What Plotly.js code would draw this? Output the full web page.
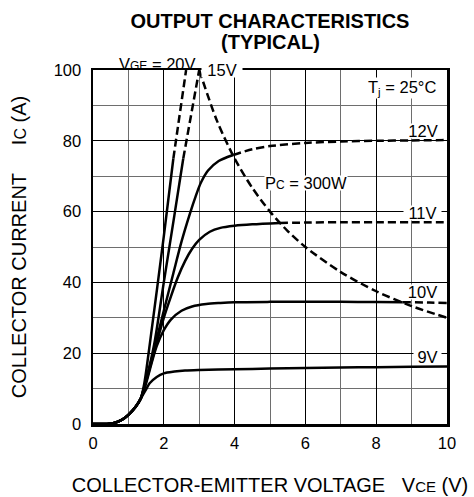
<!DOCTYPE html>
<html>
<head>
<meta charset="utf-8">
<script src="https://cdn.plot.ly/plotly-3.0.1.min.js"></script>
<style>html,body{margin:0;padding:0;background:#fff;}</style>
</head>
<body>
<div id="chart" style="width:474px;height:497px;"></div>
<script>
// ---- data (VCE in V, IC in A) ----
const v9  = [0, 0.4, 0.6, 0.8, 1.0, 1.2, 1.35, 1.5, 1.6, 1.8, 2.0, 2.3, 2.6, 3.0, 4, 5, 6, 7, 8, 9, 10];
const i9  = [0, 0, 0.3, 1.1, 2.6, 4.8, 7.2, 9.8, 11.5, 13.3, 14.3, 14.8, 15.1, 15.25, 15.45, 15.65, 15.8, 15.95, 16.05, 16.15, 16.25];

const v10 = [0, 0.4, 0.6, 0.8, 1.0, 1.2, 1.35, 1.5, 1.65, 1.8, 2.0, 2.2, 2.5, 2.8, 3.2, 3.6, 4, 5, 6, 7, 8, 8.75];
const i10 = [0, 0, 0.3, 1.1, 2.6, 4.8, 7.2, 11.5, 17, 22, 26.5, 29.5, 32, 33.2, 33.9, 34.2, 34.4, 34.5, 34.5, 34.5, 34.45, 34.4];
const v10d = [8.75, 9.5, 10];
const i10d = [34.4, 34.3, 34.2];

const v11 = [0, 0.4, 0.6, 0.8, 1.0, 1.2, 1.35, 1.5, 1.65, 1.8, 2.0, 2.2, 2.4, 2.6, 2.8, 3.0, 3.3, 3.6, 4.0, 4.5, 5.28];
const i11 = [0, 0, 0.3, 1.1, 2.6, 4.8, 7.2, 12, 17.5, 23, 30, 36, 41.5, 46, 49.5, 52, 54.3, 55.4, 56, 56.4, 56.8];
const v11d = [5.28, 6, 7, 8, 9, 10];
const i11d = [56.8, 56.9, 57, 57, 57, 57];

const v12 = [0, 0.4, 0.6, 0.8, 1.0, 1.2, 1.35, 1.5, 1.65, 1.8, 2.0, 2.27, 2.5, 2.74, 2.9, 3.05, 3.25, 3.55, 3.96];
const i12 = [0, 0, 0.3, 1.1, 2.6, 4.8, 7.2, 12.5, 18, 24, 32, 42.6, 51.5, 59.5, 64.3, 68.2, 71.6, 74.3, 76];
const v12d = [3.96, 4.5, 5, 6, 7, 8, 9, 10];
const i12d = [76, 77.6, 78.5, 79.4, 79.8, 80, 80.1, 80.2];

const v15 = [0, 0.4, 0.6, 0.8, 1.0, 1.2, 1.35, 1.5, 1.6, 1.75, 2.0, 2.3, 2.55];
const i15 = [0, 0, 0.3, 1.1, 2.6, 4.8, 7.2, 12.5, 16.5, 23.7, 40, 59, 75];
const v15d = [2.55, 3.0];
const i15d = [75, 100];

const v20 = [0, 0.4, 0.6, 0.8, 1.0, 1.2, 1.35, 1.45, 1.61, 2.0, 2.27];
const i20 = [0, 0, 0.3, 1.1, 2.6, 4.8, 7.2, 11.5, 23, 53, 75];
const v20d = [2.27, 2.63];
const i20d = [75, 100];

// 300 W power-dissipation curve
const vPc = [3, 3.5, 4, 4.5, 5, 5.5, 6, 7, 8, 9, 10];
const iPc = [100, 85.7, 75, 66.7, 60, 54.5, 50, 42.9, 37.5, 33.3, 30];

const xTicks = [0, 2, 4, 6, 8, 10];
const yTicks = [0, 20, 40, 60, 80, 100];

const FONT = 'Liberation Sans, Arial, Helvetica, sans-serif';
const solid = {color: '#000', width: 2.5, shape: 'spline', smoothing: 0.8};
const dashed = {color: '#000', width: 2.5, dash: '8px,4px', shape: 'spline', smoothing: 0.8};

function tr(x, y, line, name) {
  return {x: x, y: y, mode: 'lines', line: line, name: name, hoverinfo: 'skip', showlegend: false};
}

const traces = [
  tr(v9, i9, solid, '9V'),
  tr(v10, i10, solid, '10V'), tr(v10d, i10d, dashed, '10V'),
  tr(v11, i11, solid, '11V'), tr(v11d, i11d, dashed, '11V'),
  tr(v12, i12, solid, '12V'), tr(v12d, i12d, dashed, '12V'),
  tr(v15, i15, solid, '15V'), tr(v15d, i15d, Object.assign({}, dashed, {shape: 'linear'}), '15V'),
  tr(v20, i20, solid, '20V'), tr(v20d, i20d, Object.assign({}, dashed, {shape: 'linear'}), '20V'),
  tr(vPc, iPc, dashed, 'Pc = 300W')
];

const annFont = {family: FONT, size: 16.5, color: '#000'};
function ann(text, x, y, xanchor, bg, w, h) {
  const a = {text: text, x: x, y: y, xref: 'x', yref: 'y', showarrow: false,
             xanchor: xanchor, yanchor: 'middle', font: annFont, borderpad: 0};
  if (bg) { a.bgcolor = '#fff'; }
  if (w) { a.width = w; }
  if (h) { a.height = h; }
  return a;
}

const layout = {
  width: 474, height: 497,
  margin: {l: 93, r: 27, t: 70, b: 73},
  paper_bgcolor: '#fff', plot_bgcolor: '#fff',
  font: {family: FONT, color: '#000'},
  title: {
    text: '<b>OUTPUT CHARACTERISTICS</b>',
    font: {family: FONT, size: 20, color: '#000'},
    x: 0.5, xref: 'paper', xanchor: 'center',
    y: 0.958, yref: 'container', yanchor: 'middle'
  },
  xaxis: {
    range: [0, 10], tickvals: xTicks, ticktext: xTicks.map(String),
    showgrid: true, gridcolor: '#000', gridwidth: 1,
    minor: {dtick: 1, tick0: 0, showgrid: true, gridcolor: '#6e6e6e', gridwidth: 1},
    showline: true, linecolor: '#000', linewidth: 2.5, mirror: true,
    zeroline: false, ticks: '', ticklabelstandoff: 3,
    tickfont: {family: FONT, size: 16.5, color: '#000'},
    title: {text: 'COLLECTOR-EMITTER VOLTAGE\u00a0\u00a0\u00a0V<span style="font-size:15px">CE</span> (V)',
            font: {family: FONT, size: 20, color: '#000'}, standoff: 27}
  },
  yaxis: {
    range: [0, 100], tickvals: yTicks, ticktext: yTicks.map(String),
    showgrid: true, gridcolor: '#000', gridwidth: 1,
    minor: {dtick: 10, tick0: 0, showgrid: true, gridcolor: '#6e6e6e', gridwidth: 1},
    showline: true, linecolor: '#000', linewidth: 2.5, mirror: true,
    zeroline: false, ticks: '', ticklabelstandoff: 6,
    tickfont: {family: FONT, size: 16.5, color: '#000'},
    title: {text: 'COLLECTOR CURRENT\u00a0\u00a0\u00a0\u00a0\u00a0I<span style="font-size:16px">C</span> (A)',
            font: {family: FONT, size: 20, color: '#000'}, standoff: 22}
  },
  annotations: [
    {text: '<b>(TYPICAL)</b>', x: 0.5, y: 1.08, xref: 'paper', yref: 'paper',
     showarrow: false, xanchor: 'center', yanchor: 'middle',
     font: {family: FONT, size: 20, color: '#000'}},
    {text: 'V<span style="font-size:12px">GE</span> = 20V', x: 2.97, y: 1.017, xref: 'x', yref: 'paper',
     showarrow: false, xanchor: 'right', yanchor: 'middle', font: annFont},
    ann('15V', 3.65, 100, 'center', true, 40, 14),
    ann('T<sub>j</sub> = 25°C', 9.72, 94.9, 'right', true),
    ann('12V', 9.32, 82.8, 'center', true, 38, 14),
    ann('P<span style="font-size:12px">C</span> = 300W', 7.2, 68, 'right', true, null, 14),
    ann('11V', 9.32, 59.7, 'center', true, 37, 14),
    ann('10V', 9.32, 37.4, 'center', true, 37, 14),
    ann('9V', 9.46, 19, 'center', true, 27, 14)
  ]
};

Plotly.newPlot('chart', traces, layout, {staticPlot: true, displayModeBar: false});
</script>
</body>
</html>
